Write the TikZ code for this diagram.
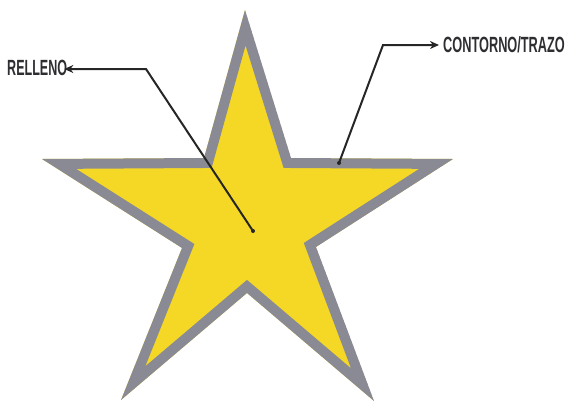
\documentclass[tikz,border=0pt]{standalone}
\usepackage{fontspec}
\setmainfont{Liberation Sans}
\usetikzlibrary{arrows.meta}
\definecolor{starfill}{RGB}{245,216,38}
\definecolor{starline}{RGB}{138,138,148}
\definecolor{labtxt}{RGB}{45,45,50}
\tikzset{
  lab/.style={inner sep=0pt, text=labtxt, font=\bfseries\fontsize{22}{22}\selectfont},
  callout/.style={line width=2pt, draw=black!85, -{Stealth[length=9pt,width=8pt]}},
  dotmark/.style={circle, fill=black!85, inner sep=0pt, minimum size=4pt}
}
\begin{document}
\begin{tikzpicture}[x=1pt,y=-1pt]
\useasboundingbox (0,0) rectangle (568,402);
\def\starpath{(245,10) -- (291,158) -- (453,159) -- (316,247) -- (374,401) -- (247,293) -- (121,400) -- (182,248) -- (42,159) -- (204,158) -- cycle}
\begin{scope}
  \clip \starpath;
  \draw[fill=starfill, draw=starline, line width=20pt, line join=miter] \starpath;
\end{scope}
\node[lab, anchor=west] (rel) at (7,68) {\scalebox{0.57}[1]{RELLENO}};
\node[lab, anchor=west] (con) at (443,45) {\scalebox{0.58}[1]{CONTORNO/TRAZO}};
\node[dotmark] (pf) at (253,231) {};
\node[dotmark] (pc) at (339,163) {};
\coordinate (b1) at (146,69);
\coordinate (b2) at (383,45);
\draw[callout] (pf.center) -- (b1) -- ([xshift=-3pt]rel.east |- b1);
\draw[callout] (pc.center) -- (b2) -- ([xshift=-4pt]con.west |- b2);
\end{tikzpicture}
\end{document}
